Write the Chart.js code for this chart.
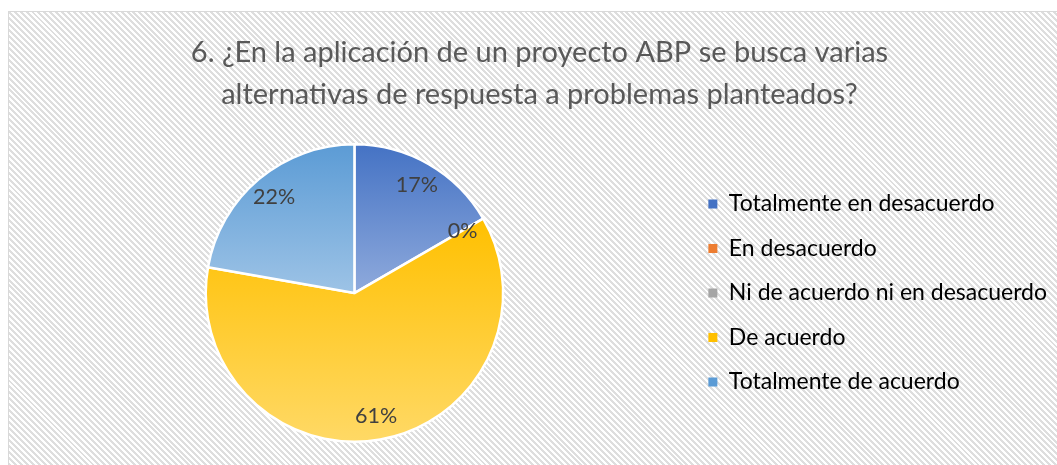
<!DOCTYPE html>
<html><head><meta charset="utf-8">
<script src="https://cdn.jsdelivr.net/npm/chart.js@4.4.0/dist/chart.umd.min.js"></script>
<style>
html,body{margin:0;padding:0;background:#fff;width:1057px;height:465px;overflow:hidden}
#frame{position:absolute;left:8px;top:11px;width:1070px;height:470px;border:1px solid #d9d9d9;box-sizing:border-box;
background:repeating-linear-gradient(45deg,#ffffff 0px,#ffffff 2.1px,#dedede 2.1px,#dedede 4.2px);}
#wrap{position:absolute;left:0;top:0;width:1057px;height:465px}
</style></head><body>
<div id="frame"></div>
<div id="wrap"><canvas id="c" width="1057" height="465"></canvas></div>
<script>
const categories = ['Totalmente en desacuerdo','En desacuerdo','Ni de acuerdo ni en desacuerdo','De acuerdo','Totalmente de acuerdo'];
const counts = [3, 0, 0, 11, 4];
const baseColors = ['#4472C4','#ED7D31','#A5A5A5','#FFC000','#5B9BD5'];
const topColors = ['#4472C4','#ED7D31','#A5A5A5','#FFC000','#5B9BD5'];
const bottomColors = ['#8FAADC','#F4B183','#C9C9C9','#FFD966','#9DC3E6'];
const titleLines = ['6. ¿En la aplicación de un proyecto ABP se busca varias','alternativas de respuesta a problemas planteados?'];

const total = counts.reduce((a,b)=>a+b,0);

function sliceGradient(ctx){
  const chart = ctx.chart; const i = ctx.dataIndex;
  const area = chart.chartArea;
  if(!area || i===undefined) return baseColors[i] || '#ccc';
  const cx = (area.left+area.right)/2, cy=(area.top+area.bottom)/2;
  const r = Math.min(area.right-area.left, area.bottom-area.top)/2;
  let cum = 0; for(let k=0;k<i;k++) cum+=counts[k];
  const a0 = -Math.PI/2 + cum/total*2*Math.PI;
  const a1 = a0 + counts[i]/total*2*Math.PI;
  const ys=[cy, cy+r*Math.sin(a0), cy+r*Math.sin(a1)];
  for (const t of [-Math.PI/2, Math.PI/2, 3*Math.PI/2]) if (t>=a0 && t<=a1) ys.push(cy + r*Math.sin(t));
  const y0=Math.min(...ys), y1=Math.max(...ys);
  if(y1-y0<1) return baseColors[i];
  const g = chart.ctx.createLinearGradient(0,y0,0,y1);
  g.addColorStop(0, topColors[i]); g.addColorStop(1, bottomColors[i]);
  return g;
}

const labelPlugin = {
  id:'pctLabels',
  afterDatasetsDraw(chart){
    const ctx = chart.ctx;
    const meta = chart.getDatasetMeta(0);
    ctx.save();
    ctx.font = '21.5px Lato';
    ctx.fillStyle = '#404040';
    ctx.textAlign='center'; ctx.textBaseline='middle';
    meta.data.forEach((arc,i)=>{
      const p = arc.getProps(['x','y','startAngle','endAngle','outerRadius'], true);
      const mid = (p.startAngle+p.endAngle)/2;
      const d = p.outerRadius*0.84;
      const pct = Math.round(counts[i]/total*100);
      if(i===2) return; // overlaps the other 0% label
      ctx.fillText(pct+'%', p.x+Math.cos(mid)*d, p.y+Math.sin(mid)*d);
    });
    ctx.restore();
  }
};

new Chart(document.getElementById('c'), {
  type:'pie',
  data:{ labels: categories, datasets:[{ data: counts, backgroundColor: sliceGradient, borderColor:'#ffffff', borderWidth:2.5 }] },
  options:{
    responsive:false, animation:false,
    layout:{ padding:{ left:22, right:0, top:0, bottom:22 } },
    plugins:{
      tooltip:{enabled:false},
      title:{ display:true, text:titleLines, color:'#595959', font:{family:'Lato', size:29, weight:'normal', lineHeight:1.45}, padding:{top:32, bottom:27} },
      legend:{ position:'right', align:'center', fullSize:false,
        labels:{ font:{family:'Lato', size:23}, color:'#595959', boxWidth:9, boxHeight:9, padding:21.5,
          generateLabels(chart){ return categories.map((t,i)=>({text:t, fillStyle:baseColors[i], strokeStyle:baseColors[i], lineWidth:0, hidden:false, index:i})); } } }
    }
  },
  plugins:[labelPlugin]
});
</script>
</body></html>
